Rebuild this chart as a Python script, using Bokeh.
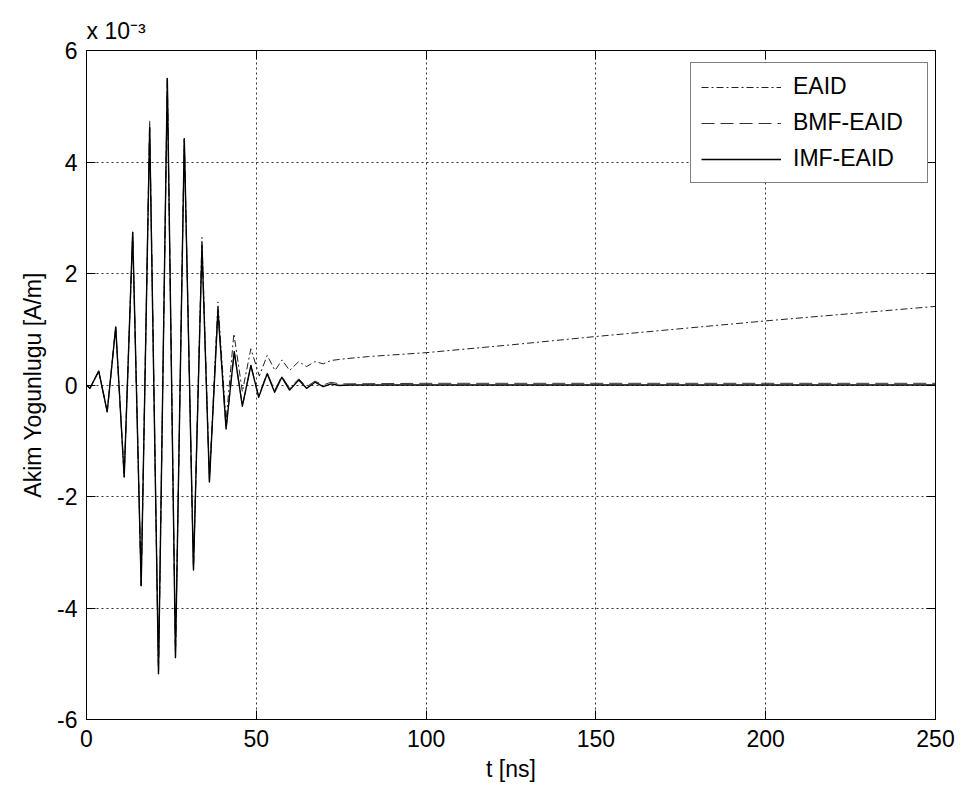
from bokeh.plotting import figure
from bokeh.models import Range1d, LinearAxis, Legend, LegendItem, Title, FixedTicker
from bokeh.embed import file_html
from bokeh.resources import INLINE

# time [ns] and current density [x 1e-3 A/m] (extrema points)
t_imf = [0, 1.0, 3.6, 6.1, 8.6, 11.1, 13.6, 16.1, 18.6, 21.2, 23.8, 26.2, 28.8, 31.5,
         34.0, 36.2, 38.7, 41.1, 43.5, 45.9, 48.4, 50.7, 53.2, 55.4, 57.5, 59.8,
         62.5, 64.8, 67.3, 69.7, 72.0, 74.5, 77.0, 250.0]
v_imf = [0, -0.06, 0.25, -0.48, 1.04, -1.65, 2.74, -3.60, 4.62, -5.18, 5.50, -4.89, 4.42, -3.32,
         2.50, -1.74, 1.34, -0.79, 0.60, -0.38, 0.35, -0.22, 0.20, -0.13, 0.14, -0.09,
         0.09, -0.06, 0.05, -0.03, 0.02, -0.01, 0.0, 0.0]

t_bmf = [0, 1.0, 3.6, 6.1, 8.6, 11.1, 13.6, 16.1, 18.6, 21.2, 23.8, 26.2, 28.8, 31.5,
         34.0, 36.2, 38.7, 41.1, 43.5, 45.9, 48.4, 50.7, 53.2, 55.4, 57.5, 59.8,
         62.5, 64.8, 67.3, 69.7, 72.0, 74.5, 100.0, 150.0, 200.0, 250.0]
v_bmf = [0, -0.06, 0.25, -0.48, 1.04, -1.65, 2.74, -3.60, 4.77, -5.18, 5.50, -4.89, 4.42, -3.32,
         2.50, -1.74, 1.34, -0.79, 0.60, -0.38, 0.35, -0.20, 0.22, -0.10, 0.16, -0.06,
         0.11, -0.03, 0.07, 0.0, 0.05, 0.02, 0.03, 0.03, 0.03, 0.03]

t_eaid = [0, 1.0, 3.6, 6.1, 8.6, 11.1, 13.6, 16.1, 18.6, 21.2, 23.8, 26.2, 28.8, 31.5,
          34.0, 36.2, 38.7, 41.1, 43.4, 45.9, 48.4, 50.9, 53.2, 55.5, 57.6, 59.8,
          62.5, 64.8, 67.3, 69.7, 72.0, 76.0, 83.0, 100.0, 125.0, 150.0, 175.0,
          200.0, 225.0, 250.0]
v_eaid = [0, -0.06, 0.25, -0.48, 1.04, -1.65, 2.74, -3.60, 4.62, -5.18, 5.50, -4.89, 4.42, -3.30,
          2.65, -1.70, 1.49, -0.65, 0.92, -0.12, 0.65, 0.16, 0.53, 0.26, 0.45, 0.26,
          0.42, 0.33, 0.42, 0.38, 0.44, 0.47, 0.51, 0.58, 0.72, 0.87, 1.01,
          1.15, 1.28, 1.41]

x_ticks = [0, 50, 100, 150, 200, 250]
y_ticks = [-6, -4, -2, 0, 2, 4, 6]
y_tick_labels = ["-6", "-4", "-2", "0", "2", "4", "6"]
series_names = ["EAID", "BMF-EAID", "IMF-EAID"]
scale_text = "x 10\u207b\u00b3"

FONT = "Liberation Sans"
FS = "23px"

p = figure(width=967, height=787, output_backend="svg", toolbar_location=None,
           x_range=Range1d(0, 250), y_range=Range1d(-6, 6),
           min_border_left=86, min_border_right=32, min_border_top=50, min_border_bottom=68)
p.background_fill_color = "white"
p.border_fill_color = "white"
p.outline_line_color = "black"
p.outline_line_width = 1

r_eaid = p.line(t_eaid, v_eaid, line_color="#222222", line_width=1, line_dash="7 3 2 3",
                line_join="round")
r_bmf = p.line(t_bmf, v_bmf, line_color="#333333", line_width=1, line_dash="13 6",
               line_join="round")
r_imf = p.line(t_imf, v_imf, line_color="black", line_width=1.4, line_join="round")

for ax in (p.xaxis[0], p.yaxis[0]):
    ax.major_tick_in = 9
    ax.major_tick_out = 0
    ax.minor_tick_line_color = None
    ax.axis_line_color = "black"
    ax.major_tick_line_color = "black"
    ax.major_label_text_font = FONT
    ax.major_label_text_font_size = FS
    ax.major_label_text_color = "black"
    ax.axis_label_text_font = FONT
    ax.axis_label_text_font_size = FS
    ax.axis_label_text_font_style = "normal"
    ax.axis_label_text_color = "black"

p.xaxis[0].ticker = FixedTicker(ticks=x_ticks)
p.yaxis[0].ticker = FixedTicker(ticks=y_ticks)
p.yaxis[0].major_label_overrides = dict(zip(y_ticks, y_tick_labels))
p.xaxis[0].axis_label = "t [ns]"
p.yaxis[0].axis_label = "Akim Yogunlugu [A/m]"
p.xaxis[0].major_label_standoff = 10
p.yaxis[0].major_label_standoff = 9
p.xaxis[0].axis_label_standoff = 6
p.yaxis[0].axis_label_standoff = 8

top = LinearAxis(ticker=FixedTicker(ticks=x_ticks), major_tick_in=9, major_tick_out=0,
                 minor_tick_line_color=None, major_label_text_font_size="1px",
                 major_label_text_color=None, major_label_standoff=0, axis_line_color="black")
right = LinearAxis(ticker=FixedTicker(ticks=y_ticks), major_tick_in=9, major_tick_out=0,
                   minor_tick_line_color=None, major_label_text_font_size="1px",
                   major_label_text_color=None, major_label_standoff=0, axis_line_color="black")
p.add_layout(top, "above")
p.add_layout(right, "right")

p.title = Title(text=scale_text, align="left", offset=0, standoff=13,
                text_font=FONT, text_font_size=FS, text_font_style="normal",
                text_color="black")

p.xgrid.ticker = FixedTicker(ticks=x_ticks)
p.ygrid.ticker = FixedTicker(ticks=y_ticks)
for g in (p.xgrid[0], p.ygrid[0]):
    g.grid_line_color = "black"
    g.grid_line_width = 1
    g.grid_line_dash = "2 3"
    g.grid_line_alpha = 0.8

legend = Legend(items=[LegendItem(label=series_names[0], renderers=[r_eaid]),
                       LegendItem(label=series_names[1], renderers=[r_bmf]),
                       LegendItem(label=series_names[2], renderers=[r_imf])],
                location=(604, 536))
legend.border_line_color = "black"
legend.border_line_width = 1
legend.background_fill_color = "white"
legend.background_fill_alpha = 1
legend.label_text_font = FONT
legend.label_text_font_size = FS
legend.label_text_color = "black"
legend.glyph_width = 80
legend.glyph_height = 26
legend.label_height = 26
legend.label_standoff = 12
legend.padding = 10
legend.spacing = 9
legend.margin = 0
legend.label_width = 124
p.add_layout(legend, "center")

open("out.html", "w").write(file_html(p, INLINE))
